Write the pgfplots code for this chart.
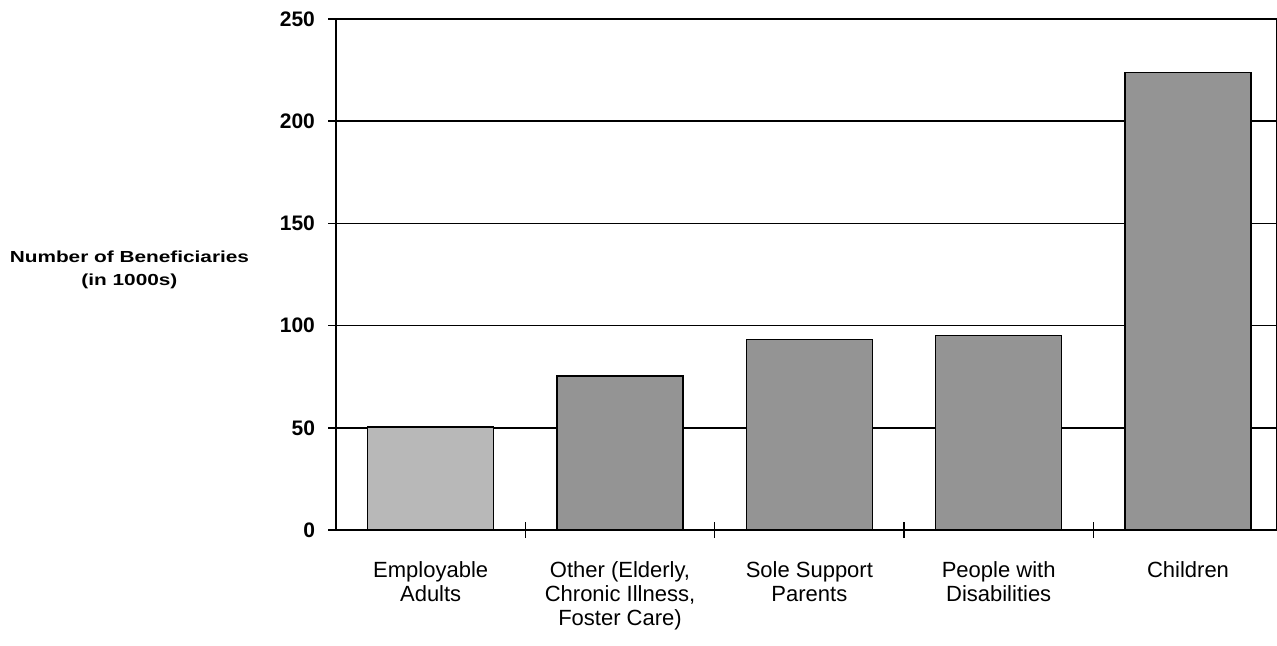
\documentclass[border=0pt]{standalone}
\usepackage{fontspec}
\setmainfont{Liberation Sans}
\usepackage{pgfplots}
\pgfplotsset{compat=1.18}
\begin{document}
\begin{tikzpicture}
\useasboundingbox (0,0) rectangle (638.5pt,322.5pt);
\begin{axis}[
  ybar, bar width=63pt, bar shift=0pt,
  at={(168pt,57.5pt)}, anchor=south west,
  scale only axis, width=470.5pt, height=255.5pt,
  xmin=-0.5, xmax=4.47, ymin=0, ymax=250,
  axis line style={line width=0.8pt, black},
  xtick pos=bottom, ytick pos=left,
  ytick={0,50,...,250},
  ymajorgrids, grid style={black, line width=0.8pt},
  major tick length=8pt,
  tick style={black, line width=0.8pt},
  /pgf/number format/assume math mode=true,
  yticklabel style={font=\fontsize{10.5}{12}\selectfont\bfseries, xshift=-3pt},
  xtick={0.5,1.5,2.5,3.5},
  xticklabels={},
  extra x ticks={0,...,4},
  extra x tick labels={{Employable\\Adults},{Other (Elderly,\\Chronic Illness,\\Foster Care)},{Sole Support\\Parents},{People with\\Disabilities},{Children}},
  extra x tick style={major tick length=0pt, grid=none,
    xticklabel style={font=\fontsize{11}{12}\selectfont, align=center, yshift=-12pt, anchor=north}},
  every axis y label/.style={at={(rel axis cs:-0.2195,0.509)}, anchor=center, align=center, font=\fontsize{8}{11.5}\selectfont\bfseries},
  ylabel={\scalebox{1.3}[1]{Number of Beneficiaries}\\\scalebox{1.3}[1]{(in 1000s)}},
  tick align=center,
]
\addplot[fill=black!28, draw=black, line width=0.8pt] coordinates {(0,50.5)};
\addplot[fill=black!42, draw=black, line width=0.8pt] coordinates {(1,75.3) (2,93.2) (3,95.2) (4,223.8)};
\end{axis}
\end{tikzpicture}
\end{document}
